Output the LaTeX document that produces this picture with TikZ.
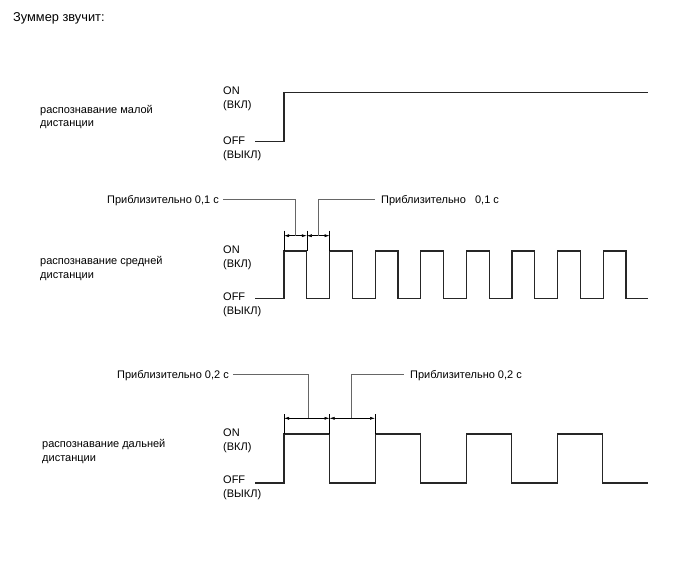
\documentclass[tikz,border=0pt]{standalone}
\usepackage{fontspec}
\setmainfont{Liberation Sans}
\usetikzlibrary{positioning,arrows.meta}

\begin{document}
\begin{tikzpicture}[x=1pt, y=-1pt, >={Latex[length=5pt,width=3pt]}, font=\fontsize{11}{14}\selectfont]
    \tikzstyle{lbl}=[inner sep=0pt, anchor=north west, align=left]
    \tikzstyle{txt}=[inner sep=0pt, anchor=base west]
    \tikzstyle{wave}=[line width=1.2pt, black!85]
    \tikzstyle{ext}=[line width=0.5pt]
    \tikzstyle{dim}=[<->, line width=0.5pt]
    \tikzstyle{lead}=[line width=0.9pt, black!60]

    \useasboundingbox (0,0) rectangle (688,560);

    \node[txt, font=\fontsize{12.8}{15}\selectfont] (title) at (13,21.5) {Зуммер звучит:};

    % short range
    \node[txt] (short1) at (40,113) {распознавание малой};
    \node[txt] (short2) at (40,126.5) {дистанции};
    \node[lbl] (on1) at (223,87) {ON\\(ВКЛ)};
    \node[lbl] (off1) at (223,137) {OFF\\(ВЫКЛ)};
    \draw[wave] (255,141.5) -- (284,141.5) -- (284,92.5) -- (648,92.5);

    % medium range
    \node[txt] (mid1) at (40,264.5) {распознавание средней};
    \node[txt] (mid2) at (40,278) {дистанции};
    \node[lbl] (on2) at (223,245.4) {ON\\(ВКЛ)};
    \node[lbl] (off2) at (223,292.5) {OFF\\(ВЫКЛ)};
    \draw[wave] (255,298.5) \foreach \k in {0,...,7} {
        -- ({284+45.6*\k},298.5) -- ({284+45.6*\k},251) -- ({306.8+45.6*\k},251) -- ({306.8+45.6*\k},298.5)
    } -- (648,298.5);

    \foreach \x [count=\i] in {284,306.8,329.6} {
        \coordinate (m\i) at (\x,235.7);
        \draw[ext] (\x,230.5) -- (\x,251);
    }
    \draw[dim] (m1) -- (m2);
    \draw[dim] (m2) -- (m3);

    \node[txt, anchor=base east] (appr1) at (219,203) {Приблизительно 0,1 с};
    \node[txt] (appr2) at (381,203) {Приблизительно\ \ \ 0,1 с};
    \coordinate (t1) at (295,235.7);
    \coordinate (t2) at (318,235.7);
    \draw[lead] ([xshift=4pt]appr1.base east |- 0,199) -| (t1);
    \draw[lead] (t2) |- ([xshift=-6pt]appr2.base west |- 0,199);

    % long range
    \node[txt] (long1) at (42,447.5) {распознавание дальней};
    \node[txt] (long2) at (42,461) {дистанции};
    \node[lbl] (on3) at (223,429) {ON\\(ВКЛ)};
    \node[lbl] (off3) at (223,476) {OFF\\(ВЫКЛ)};
    \draw[wave] (255,483) \foreach \k in {0,...,3} {
        -- ({284+91.1*\k},483) -- ({284+91.1*\k},434) -- ({329.5+91.1*\k},434) -- ({329.5+91.1*\k},483)
    } -- (648,483);

    \foreach \x [count=\i] in {284,329.5,375} {
        \coordinate (l\i) at (\x,418.3);
        \draw[ext] (\x,414) -- (\x,434);
    }
    \draw[dim] (l1) -- (l2);
    \draw[dim] (l2) -- (l3);

    \node[txt, anchor=base east] (appr3) at (229,378) {Приблизительно 0,2 с};
    \node[txt] (appr4) at (410,378) {Приблизительно 0,2 с};
    \coordinate (t3) at (308.3,418.3);
    \coordinate (t4) at (351.7,418.3);
    \draw[lead] ([xshift=4pt]appr3.base east |- 0,374.3) -| (t3);
    \draw[lead] (t4) |- ([xshift=-6pt]appr4.base west |- 0,374.3);
\end{tikzpicture}
\end{document}
